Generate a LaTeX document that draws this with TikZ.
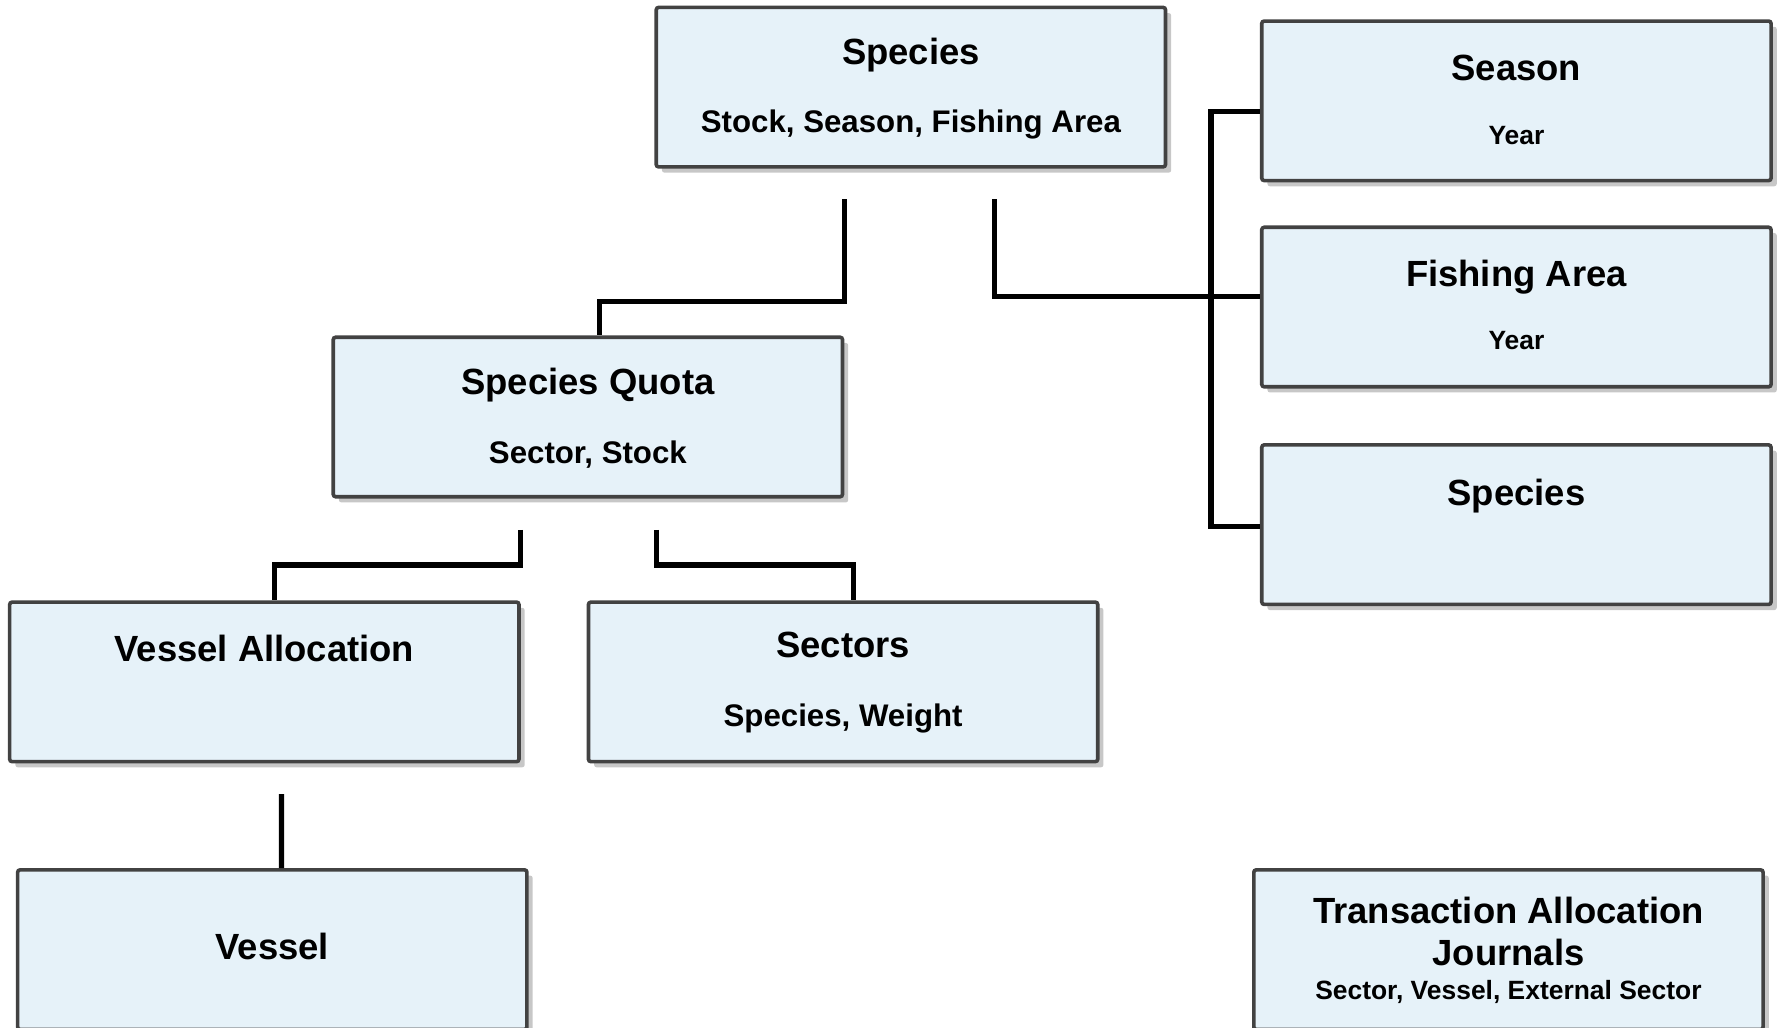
\documentclass[tikz,border=0pt]{standalone}
\usepackage{fontspec}
\setmainfont{Liberation Sans}
\usepackage{tikz}
\usetikzlibrary{calc}
\usetikzlibrary{shadows}
\definecolor{boxfill}{HTML}{E6F2F9}
\definecolor{boxline}{HTML}{424242}
\tikzstyle{entbox} = [rectangle, 
minimum width=4.47cm, 
minimum height=1.40cm, 
draw=boxline, 
line width=0.9pt, 
rounded corners=0.6pt, 
fill=boxfill, 
drop shadow={fill=black!22, opacity=1, shadow xshift=0.05cm, shadow yshift=-0.05cm}]
\tikzstyle{titletext} = [anchor=base, inner sep=0pt, font=\fontsize{9.1}{11}\selectfont\bfseries]
\tikzstyle{subtext} = [anchor=base, inner sep=0pt, font=\fontsize{7.8}{9.5}\selectfont\bfseries]
\tikzstyle{smalltext} = [anchor=base, inner sep=0pt, font=\fontsize{6.6}{8}\selectfont\bfseries]
\tikzstyle{link} = [line width=1.3pt, black]

\begin{document}
\begin{tikzpicture}
    \useasboundingbox (0,0) rectangle (15.65,-9.023);

    \node (sp) [entbox, xshift=7.995cm, yshift=-0.765cm] {};
    \node (sea) [entbox, xshift=13.31cm, yshift=-0.885cm] {};
    \node (fa) [entbox, xshift=13.31cm, yshift=-2.695cm] {};
    \node (spr) [entbox, xshift=13.31cm, yshift=-4.605cm] {};
    \node (sq) [entbox, xshift=5.16cm, yshift=-3.66cm] {};
    \node (va) [entbox, xshift=2.32cm, yshift=-5.985cm] {};
    \node (sec) [entbox, xshift=7.40cm, yshift=-5.985cm] {};
    \node (ves) [entbox, xshift=2.39cm, yshift=-8.335cm] {};
    \node (ta) [entbox, xshift=13.24cm, yshift=-8.335cm] {};

    % Box texts
    \node (spt) [titletext] at ($(sp.north)+(0,-0.52)$) {Species};
    \node (sps) [subtext] at ($(sp.north)+(0,-1.11)$) {Stock, Season, Fishing Area};
    \node (seat) [titletext] at ($(sea.north)+(0,-0.535)$) {Season};
    \node (seas) [smalltext] at ($(sea.north)+(0,-1.10)$) {Year};
    \node (fat) [titletext] at ($(fa.north)+(0,-0.535)$) {Fishing Area};
    \node (fas) [smalltext] at ($(fa.north)+(0,-1.09)$) {Year};
    \node (sprt) [titletext] at ($(spr.north)+(0,-0.545)$) {Species};
    \node (sqt) [titletext] at ($(sq.north)+(0,-0.515)$) {Species Quota};
    \node (sqs) [subtext] at ($(sq.north)+(0,-1.12)$) {Sector, Stock};
    \node (vat) [titletext] at ($(va.north)+(0,-0.535)$) {Vessel Allocation};
    \node (sect) [titletext] at ($(sec.north)+(0,-0.505)$) {Sectors};
    \node (secs) [subtext] at ($(sec.north)+(0,-1.11)$) {Species, Weight};
    \node (vest) [titletext] at ($(ves.north)+(0,-0.805)$) {Vessel};
    \node (tat1) [titletext] at ($(ta.north)+(0,-0.485)$) {Transaction Allocation};
    \node (tat2) [titletext] at ($(ta.north)+(0,-0.855)$) {Journals};
    \node (tas) [smalltext] at ($(ta.north)+(0,-1.15)$) {Sector, Vessel, External Sector};

    % Free line ends below the boxes
    \coordinate (spA) at (7.41,-1.75);
    \coordinate (spB) at (8.73,-1.75);
    \coordinate (sqA) at (4.57,-4.65);
    \coordinate (sqB) at (5.76,-4.65);
    \coordinate (vaA) at (2.47,-6.97);

    % Connectors
    \draw [link] (spA) |- ($(sq.north)+(0.10,0.30)$) -- ($(sq.north)+(0.10,0)$);
    \draw [link] (spB) |- ($(fa.west)+(0,0.095)$);
    \draw [link] ($(sea.west)+(0,-0.095)$) -- ++(-0.43,0) |- ($(spr.west)+(0,-0.015)$);
    \draw [link] (sqA) |- ($(va.north)+(0.09,0.31)$) -- ($(va.north)+(0.09,0)$);
    \draw [link] (sqB) |- ($(sec.north)+(0.09,0.31)$) -- ($(sec.north)+(0.09,0)$);
    \draw [link] (vaA) -- ($(ves.north)+(0.08,0)$);
\end{tikzpicture}
\end{document}
